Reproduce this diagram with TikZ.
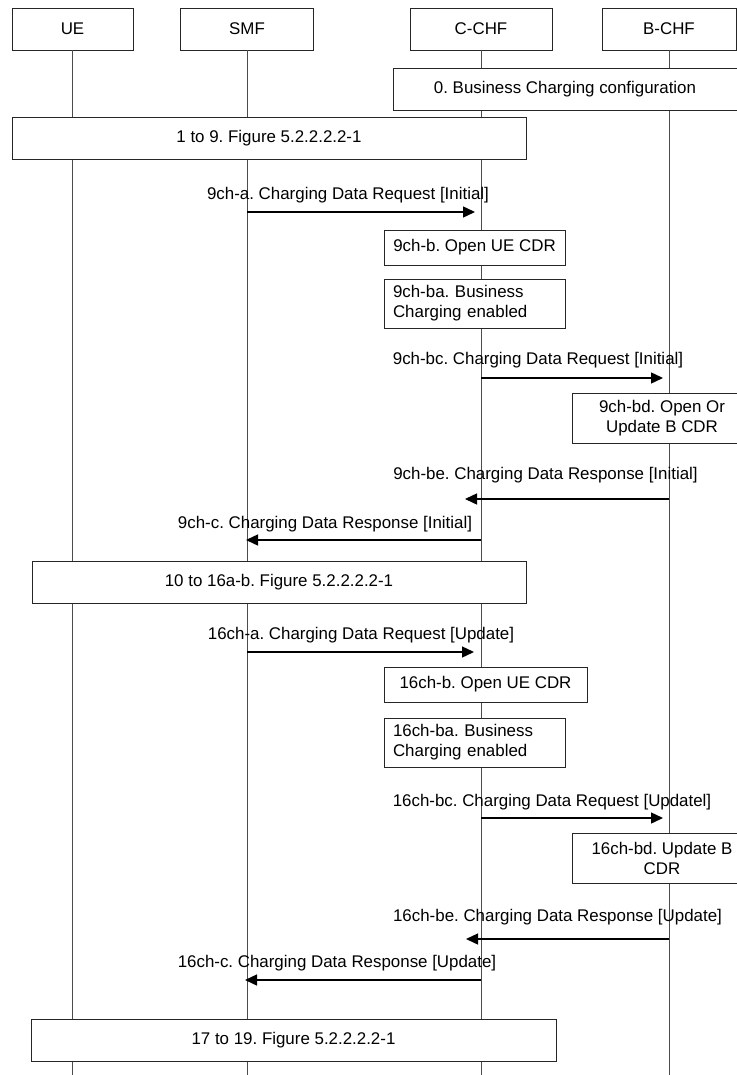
\documentclass[tikz,border=0pt]{standalone}
\usepackage{fontspec}
\setmainfont{Liberation Sans}
\usetikzlibrary{arrows.meta}
\frenchspacing
\begin{document}
\begin{tikzpicture}[x=1pt,y=-1pt,
  font=\fontsize{16.9}{20}\selectfont\frenchspacing,
  box/.style={draw=black!85,line width=0.9pt,fill=white,inner sep=0pt,align=center},
  lbox/.style={draw=black!85,line width=0.9pt,fill=white,inner xsep=9pt,inner ysep=0pt,align=left},
  life/.style={draw=black!70,line width=0.9pt},
  msg/.style={draw=black,line width=1.4pt,-{Triangle[length=12pt,width=11pt]}},
  lbl/.style={inner sep=0pt,anchor=center}]
\fill[white] (0,0) rectangle (736,1075);
\useasboundingbox (0,0) rectangle (736,1075);
% headers
\node[box,minimum width=121,minimum height=42] (ue) at (72.5,29) {UE};
\node[box,minimum width=133,minimum height=42] (smf) at (247,29) {SMF};
\node[box,minimum width=142,minimum height=42] (cchf) at (481,29) {C-CHF};
\node[box,minimum width=134,minimum height=42] (bchf) at (669,29) {B-CHF};
\coordinate (bot) at (0,1075);
% lifelines
\draw[life] (ue.south) -- (ue.south |- bot);
\draw[life] (smf.south) -- (smf.south |- bot);
\draw[life] (cchf.south) -- (cchf.south |- bot);
\draw[life] (bchf.south) -- (bchf.south |- bot);
% boxes
\node[box,minimum width=344,minimum height=42] (b0) at (565,89) {0. Business Charging configuration};
\node[box,minimum width=514,minimum height=42] (b19) at (269,138) {1 to 9. Figure 5.2.2.2.2-1};
\node[box,minimum width=181,minimum height=35] (b9b) at (474.5,247.5) {9ch-b. Open UE CDR};
\node[lbox,text width=163,minimum height=49] (b9ba) at (474.5,303.5) {9ch-ba. Business\\Charging enabled};
\node[box,minimum width=180,minimum height=50] (b9bd) at (662,418) {9ch-bd. Open Or\\Update B CDR};
\node[box,minimum width=494,minimum height=42] (b1016) at (279,582) {10 to 16a-b. Figure 5.2.2.2.2-1};
\node[box,minimum width=203,minimum height=35] (b16b) at (485.5,684.5) {16ch-b. Open UE CDR};
\node[lbox,text width=163,minimum height=49] (b16ba) at (474.5,742.5) {16ch-ba. Business\\Charging enabled};
\node[box,minimum width=180,minimum height=50] (b16bd) at (662,858) {16ch-bd. Update B\\CDR};
\node[box,minimum width=525,minimum height=42] (b1719) at (293.5,1040) {17 to 19. Figure 5.2.2.2.2-1};
% message end points
\coordinate (m1s) at (247,212); \coordinate (m1e) at (475,212);
\coordinate (m2s) at (481,378); \coordinate (m2e) at (663,378);
\coordinate (m3s) at (669,499); \coordinate (m3e) at (465,499);
\coordinate (m4s) at (481,540); \coordinate (m4e) at (246,540);
\coordinate (m5s) at (247,652); \coordinate (m5e) at (474,652);
\coordinate (m6s) at (481,818); \coordinate (m6e) at (663,818);
\coordinate (m7s) at (669,939); \coordinate (m7e) at (466,939);
\coordinate (m8s) at (481,980); \coordinate (m8e) at (245,980);
\draw[msg] (m1s) -- (m1e);
\draw[msg] (m2s) -- (m2e);
\draw[msg] (m3s) -- (m3e);
\draw[msg] (m4s) -- (m4e);
\draw[msg] (m5s) -- (m5e);
\draw[msg] (m6s) -- (m6e);
\draw[msg] (m7s) -- (m7e);
\draw[msg] (m8s) -- (m8e);
% labels
\node[lbl] (l1) at (348,195) {9ch-a. Charging Data Request [Initial]};
\node[lbl] (l2) at (538,360) {9ch-bc. Charging Data Request [Initial]};
\node[lbl] (l3) at (545.5,475) {9ch-be. Charging Data Response [Initial]};
\node[lbl] (l4) at (325,524) {9ch-c. Charging Data Response [Initial]};
\node[lbl] (l5) at (361,635) {16ch-a. Charging Data Request [Update]};
\node[lbl] (l6) at (552,802) {16ch-bc. Charging Data Request [Updatel]};
\node[lbl] (l7) at (557.5,917) {16ch-be. Charging Data Response [Update]};
\node[lbl] (l8) at (337,963) {16ch-c. Charging Data Response [Update]};
\end{tikzpicture}
\end{document}
